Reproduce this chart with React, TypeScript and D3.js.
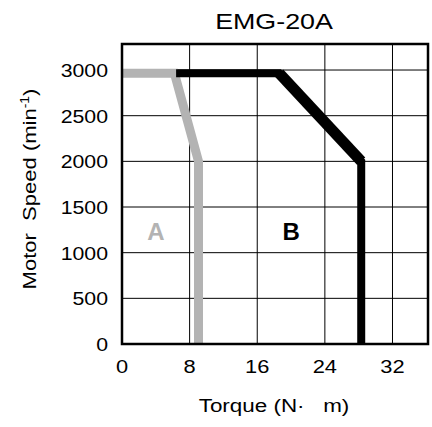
import React from "react";
import * as d3 from "d3";

const xTicks = [0, 8, 16, 24, 32];
const yTicks = [0, 500, 1000, 1500, 2000, 2500, 3000];
const curveATorque = [0, 6.2, 9.05, 9.05];
const curveASpeed = [2965, 2965, 2000, 0];
const curveBTorque = [6.4, 18.6, 28.3, 28.3];
const curveBSpeed = [2965, 2965, 2000, 0];
const title = "EMG-20A";
const xLabel = "Torque (N·   m)";
const regionLabels = [
  { text: "A", torque: 4.0, speed: 1140 },
  { text: "B", torque: 20.0, speed: 1140 },
];

const W = 432, H = 427;
const L = 122, R = 428, T = 44, B = 344;

export default function App() {
  const x = d3.scaleLinear().domain([0, 36.2]).range([L, R]);
  const y = d3.scaleLinear().domain([0, 3285]).range([B, T]);
  const line = d3.line<[number, number]>().x(d => x(d[0])).y(d => y(d[1]));
  const a: [number, number][] = curveATorque.map((t, i) => [t, curveASpeed[i]]);
  const b: [number, number][] = curveBTorque.map((t, i) => [t, curveBSpeed[i]]);
  const diag = b.slice(1, 3);
  const font = "Liberation Sans, Arial, sans-serif";
  return (
    <svg width={W} height={H} style={{ position: "absolute", left: 0, top: 0, background: "#fff" }} fontFamily={font}>
      {xTicks.filter(t => t > 0).map(t => (
        <line key={"gx" + t} x1={x(t)} x2={x(t)} y1={T} y2={B} stroke="#000" strokeWidth={1} />
      ))}
      {yTicks.filter(t => t > 0).map(t => (
        <line key={"gy" + t} x1={L} x2={R} y1={y(t)} y2={y(t)} stroke="#000" strokeWidth={1} />
      ))}
      <path d={line(a) || ""} fill="none" stroke="#b3b3b3" strokeWidth={9} strokeLinejoin="miter" />
      <path d={line(b) || ""} fill="none" stroke="#000" strokeWidth={8} strokeLinejoin="miter" />
      <path d={line(diag) || ""} fill="none" stroke="#000" strokeWidth={11} />
      <rect x={L} y={T} width={R - L} height={B - T} fill="none" stroke="#000" strokeWidth={2.5} />
      {regionLabels.map((r, i) => (
        <text key={r.text} x={x(r.torque)} y={y(r.speed)} textAnchor="middle" fontSize={24} fontWeight="bold"
          fill={i === 0 ? "#b3b3b3" : "#000"}>{r.text}</text>
      ))}
      {xTicks.map(t => (
        <text key={"tx" + t} transform={`translate(${x(t)},${373}) scale(1.15,1)`} textAnchor="middle" fontSize={19}>{t}</text>
      ))}
      {yTicks.map(t => (
        <text key={"ty" + t} transform={`translate(${108},${y(t) + 7}) scale(1.12,1)`} textAnchor="end" fontSize={19}>{t}</text>
      ))}
      <text transform={`translate(${274},${29}) scale(1.22,1)`} textAnchor="middle" fontSize={22}>{title}</text>
      <text transform={`translate(${274},${412}) scale(1.18,1)`} textAnchor="middle" fontSize={19} style={{ whiteSpace: "pre" }}>{xLabel}</text>
      <text transform={`translate(${36},${189}) rotate(-90) scale(1.16,1)`} textAnchor="middle" fontSize={19} style={{ whiteSpace: "pre" }}>
        <tspan>{"Motor  Speed (min"}</tspan>
        <tspan dy={-7} fontSize={12}>{"-1"}</tspan>
        <tspan dy={7}>{")"}</tspan>
      </text>
    </svg>
  );
}
